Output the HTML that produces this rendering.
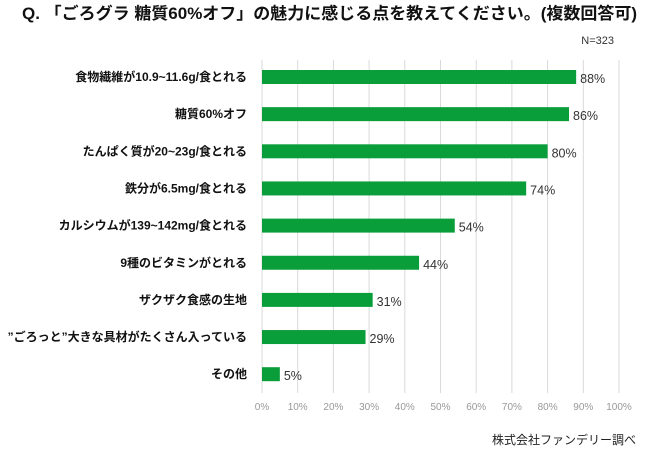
<!DOCTYPE html>
<html><head><meta charset="utf-8"><style>
body{margin:0;background:#fff;}
svg{display:block;font-family:"Liberation Sans","Noto Sans CJK JP",sans-serif;}
</style></head><body>
<svg id="c" width="650" height="457">
<text x="22" y="19" font-size="16.5" font-weight="bold" fill="#111" textLength="615" lengthAdjust="spacingAndGlyphs">Q. 「ごろグラ 糖質60%オフ」の魅力に感じる点を教えてください。(複数回答可)</text>
<text x="614" y="44" font-size="11" fill="#333" text-anchor="end">N=323</text>
<text x="636" y="444" font-size="12" fill="#222" text-anchor="end">株式会社ファンデリー調べ</text>
<g id="grid"></g><g id="bars"></g>
</svg>
<script>
const categories=["食物繊維が10.9~11.6g/食とれる","糖質60%オフ","たんぱく質が20~23g/食とれる","鉄分が6.5mg/食とれる","カルシウムが139~142mg/食とれる","9種のビタミンがとれる","ザクザク食感の生地","”ごろっと”大きな具材がたくさん入っている","その他"];
const values=[88,86,80,74,54,44,31,29,5];
const ticks=[0,10,20,30,40,50,60,70,80,90,100];
const NS="http://www.w3.org/2000/svg";
const x0=262,x1=619,yTop=60,yBot=393,row0=77,step=37.15;
const xs=v=>x0+(x1-x0)*v/100;
const ys=i=>row0+i*step;
const grid=document.getElementById('grid'),bars=document.getElementById('bars');
function mk(t,a,p){const e=document.createElementNS(NS,t);for(const k in a)e.setAttribute(k,a[k]);p.appendChild(e);return e;}
ticks.forEach(t=>{
 const l=mk('line',{x1:xs(t),x2:xs(t),y1:yTop,y2:yBot,stroke:'#d9d9d9','stroke-width':1},grid);
 
 
 const tx=mk('text',{x:xs(t),y:410,'font-size':10,fill:'#999','text-anchor':'middle'},grid);
 tx.textContent=t+'%';
 
 
});
categories.forEach((c,i)=>{
 const y=ys(i);
 const lb=mk('text',{x:247,y:y+4,'font-size':12,'font-weight':'bold',fill:'#111','text-anchor':'end'},bars);
 lb.textContent=c;
 
 
 const r=mk('rect',{x:x0,y:y-7,width:xs(values[i])-x0,height:14,fill:'#0a9e3b'},bars);
 
 
 const v=mk('text',{x:xs(values[i])+4,y:y+6,'font-size':12.5,fill:'#333'},bars);
 v.textContent=values[i]+'%';
 
 
});
</script>
</body></html>
